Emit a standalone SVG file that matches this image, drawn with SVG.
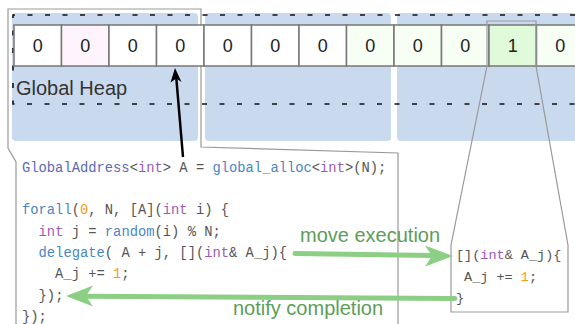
<svg xmlns="http://www.w3.org/2000/svg" width="575" height="324" viewBox="0 0 575 324">
<style>
.bg{fill:#cadaee}
.dash{fill:none;stroke:#111;stroke-width:1.6;stroke-dasharray:5 12.5}
.cell{stroke:#777;stroke-width:1.5}
.num{font-family:"Liberation Sans",Arial,sans-serif;font-size:18px;fill:#222;text-anchor:middle}
.lbl{font-family:"Liberation Sans",Arial,sans-serif;font-size:20px;fill:#333}
.glbl{font-family:"Liberation Sans",Arial,sans-serif;font-size:20px;fill:#5c9e57}
.code{font-family:"Liberation Mono","Courier New",monospace;font-size:13.8px;fill:#555}
.code2{font-family:"Liberation Mono","Courier New",monospace;font-size:13.5px;fill:#555}
.t{fill:#5a6ab8}.f{fill:#4a86c5}.k{fill:#9b59b6}.n{fill:#f39c12}
.callout{fill:none;stroke:#999;stroke-width:1.2}
.garrow{stroke:#8ccf84;stroke-width:5;stroke-linecap:round;fill:none}
.ghead{fill:#8ccf84}
</style>
<g id="heap-background">
<rect class="bg" x="12" y="13" width="186" height="128" rx="4"/>
<rect class="bg" x="205" y="13" width="186" height="128" rx="4"/>
<rect class="bg" x="397" y="13" width="190" height="128" rx="4"/>
<path class="dash" d="M575,15 H13 V104 H575"/>
</g>
<g id="callout-left">
<path class="callout" d="M16,330 V162 L8,148 V9 H201 V147 L398,153 V330"/>
</g>
<g id="cells">
<rect class="cell" x="14" y="25" width="47.5" height="41" fill="#fff"/>
<rect class="cell" x="61.5" y="25" width="47.5" height="41" fill="#fdf4fd"/>
<rect class="cell" x="109" y="25" width="47.5" height="41" fill="#fff"/>
<rect class="cell" x="156.5" y="25" width="47.5" height="41" fill="#fff"/>
<rect class="cell" x="204" y="25" width="47.5" height="41" fill="#fff"/>
<rect class="cell" x="251.5" y="25" width="47.5" height="41" fill="#fff"/>
<rect class="cell" x="299" y="25" width="47.5" height="41" fill="#fff"/>
<rect class="cell" x="346.5" y="25" width="47.5" height="41" fill="#f7fff5"/>
<rect class="cell" x="394" y="25" width="47.5" height="41" fill="#f7fff5"/>
<rect class="cell" x="441.5" y="25" width="47.5" height="41" fill="#f7fff5"/>
<rect class="cell" x="489" y="25" width="47.5" height="41" fill="#e0fbd9" stroke="#888"/>
<rect class="cell" x="536.5" y="25" width="47.5" height="41" fill="#f7fff5"/>
<text class="num" x="37.75" y="52">0</text>
<text class="num" x="85.25" y="52">0</text>
<text class="num" x="132.75" y="52">0</text>
<text class="num" x="180.25" y="52">0</text>
<text class="num" x="227.75" y="52">0</text>
<text class="num" x="275.25" y="52">0</text>
<text class="num" x="322.75" y="52">0</text>
<text class="num" x="370.25" y="52">0</text>
<text class="num" x="417.75" y="52">0</text>
<text class="num" x="465.25" y="52">0</text>
<text class="num" x="512.75" y="52">1</text>
<text class="num" x="560.25" y="52">0</text>
</g>
<g id="label-heap">
<text class="lbl" x="16" y="95">Global Heap</text>
</g>
<g id="callout-right">
<path class="callout" d="M487,66 V21 H536 V66 L568,245 V312 H451 V245 Z" stroke="#888"/>
</g>
<g id="code-main">
<text class="code" x="22" y="171.5"><tspan class="t">GlobalAddress</tspan>&lt;<tspan class="k">int</tspan>&gt; A = <tspan class="f">global_alloc</tspan>&lt;<tspan class="k">int</tspan>&gt;(N);</text>
<text class="code" x="22" y="214"><tspan class="f">forall</tspan>(<tspan class="n">0</tspan>, N, [A](<tspan class="k">int</tspan> i) {</text>
<text class="code" x="38.6" y="235.5"><tspan class="k">int</tspan> j = <tspan class="f">random</tspan>(i) % N;</text>
<text class="code" x="38.6" y="257"><tspan class="f">delegate</tspan>( A + j, [](<tspan class="k">int</tspan>&amp; A_j){</text>
<text class="code" x="55.1" y="278">A_j += <tspan class="n">1</tspan>;</text>
<text class="code" x="38.6" y="299.5">});</text>
<text class="code" x="22" y="320.5">});</text>
</g>
<g id="code-remote">
<text class="code2" x="456" y="259">[](<tspan class="k">int</tspan>&amp; A_j){</text>
<text class="code2" x="464.1" y="280.5">A_j += <tspan class="n">1</tspan>;</text>
<text class="code2" x="456" y="302">}</text>
</g>
<g id="connectors">
<line x1="183" y1="157" x2="176.3" y2="78" stroke="#000" stroke-width="2.5"/>
<polygon points="175,68 181.5,82 176.3,78.5 170.5,82.5" fill="#000"/>
<line class="garrow" x1="295" y1="253.5" x2="432" y2="255.6"/>
<polygon class="ghead" points="453,256 425,245.5 432,256 425,266.5"/>
<line class="garrow" x1="455" y1="298.5" x2="86" y2="296.3"/>
<polygon class="ghead" points="66,296 93,285.5 86,296 93,306.5"/>
<text class="glbl" x="300" y="242">move execution</text>
<text class="glbl" x="233" y="315">notify completion</text>
</g>
</svg>
